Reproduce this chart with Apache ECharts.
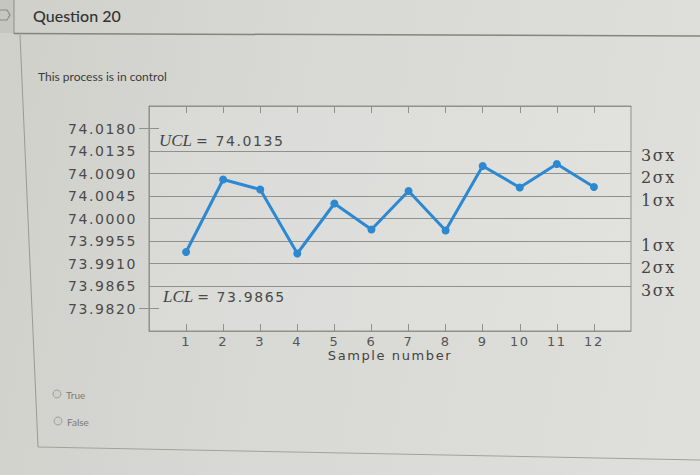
<!DOCTYPE html>
<html><head><meta charset="utf-8">
<script src="https://cdn.jsdelivr.net/npm/echarts@6/dist/echarts.min.js"></script>
<style>
html,body{margin:0;padding:0;}
body{width:700px;height:475px;overflow:hidden;background:linear-gradient(100deg,#cfd0ca 0%,#d8d9d5 40%,#dfe0dc 100%);}
#chart{width:700px;height:475px;}
#chart text[style*="DejaVu"]{letter-spacing:1.6px;}
</style></head><body><div id="chart"></div>
<script>
// ---- data ----
const sampleNumbers = [1, 2, 3, 4, 5, 6, 7, 8, 9, 10, 11, 12];
const sampleMeans = [73.9933, 74.0078, 74.0058, 73.9930, 74.0030, 73.9978, 74.0055, 73.9976, 74.0105, 74.0062, 74.0109, 74.0063];
const uclValue = 74.0135;
const lclValue = 73.9865;
const yTickValues = [73.9820, 73.9865, 73.9910, 73.9955, 74.0000, 74.0045, 74.0090, 74.0135, 74.0180];
const sigmaLineValues = [74.0135, 74.0090, 74.0045, 74.0000, 73.9955, 73.9910, 73.9865];
const sigmaLineLabels = ['3σx', '2σx', '1σx', '', '1σx', '2σx', '3σx'];
const xTickValues = [1, 2, 3, 4, 5, 6, 7, 8, 9, 10, 11, 12];
const outerTickValues = [73.9820, 74.0180];

const chart = echarts.init(document.getElementById('chart'), null, {renderer: 'svg'});
const gridColor = '#8f918c';
const numFont = 'DejaVu Sans';
const serifFont = 'DejaVu Serif';

const markData = sigmaLineValues.map((v, i) => ({
  yAxis: v,
  label: sigmaLineLabels[i] === '' ? {show: false} : {
    show: true, position: 'end', distance: 10, offset: [0, 4],
    formatter: sigmaLineLabels[i],
    fontFamily: serifFont, fontSize: 16, color: '#454545'
  }
}));
const limitRich = {
  i: {fontFamily: 'Liberation Serif', fontStyle: 'italic', fontSize: 17, color: '#454545', padding: [0, 4, 0, 0]},
  t: {fontFamily: numFont, fontSize: 14, color: '#4a4a4a'}
};
markData.push({
  yAxis: uclValue,
  label: {show: true, position: 'insideStartTop', distance: [10, 2],
    formatter: '{i|UCL}{t|= ' + uclValue.toFixed(4) + '}', rich: limitRich}
});
markData.push({
  yAxis: lclValue,
  label: {show: true, position: 'insideStartBottom', distance: [14, 2],
    formatter: '{i|LCL}{t|= ' + lclValue.toFixed(4) + '}', rich: limitRich}
});

const option = {
  animation: false,
  grid: {left: 149, right: 69, top: 106, bottom: 144, show: true,
         backgroundColor: 'rgba(255,255,255,0.12)', borderColor: gridColor, borderWidth: 1},
  xAxis: [{
    type: 'value', min: 0, max: 13, position: 'bottom',
    axisLine: {show: true, lineStyle: {color: gridColor}},
    axisTick: {show: true, inside: true, length: 7, customValues: xTickValues, lineStyle: {color: gridColor}},
    axisLabel: {customValues: xTickValues, margin: 4, fontFamily: numFont, fontSize: 13, color: '#555'},
    splitLine: {show: false},
    name: 'Sample number', nameLocation: 'middle', nameGap: 18,
    nameTextStyle: {fontFamily: numFont, fontSize: 13, color: '#444'}
  }, {
    type: 'value', min: 0, max: 13, position: 'top',
    axisLine: {show: true, lineStyle: {color: gridColor}},
    axisTick: {show: true, inside: true, length: 7, customValues: xTickValues, lineStyle: {color: gridColor}},
    axisLabel: {show: false}, splitLine: {show: false}
  }],
  yAxis: [{
    type: 'value', min: 73.9775, max: 74.0225, position: 'left',
    axisLine: {show: true, lineStyle: {color: gridColor}},
    axisTick: {show: true, inside: true, length: 10, customValues: outerTickValues, lineStyle: {color: gridColor}},
    axisLabel: {customValues: yTickValues, margin: 12, formatter: v => v.toFixed(4),
                fontFamily: numFont, fontSize: 14, color: '#4a4a4a'},
    splitLine: {show: false}
  }, {
    type: 'value', min: 73.9775, max: 74.0225, position: 'right',
    axisLine: {show: true, lineStyle: {color: gridColor}},
    axisTick: {show: true, inside: true, length: 10, customValues: outerTickValues, lineStyle: {color: gridColor}},
    axisLabel: {show: false}, splitLine: {show: false}
  }],
  series: [{
    type: 'line',
    data: sampleNumbers.map((s, i) => [s, sampleMeans[i]]),
    xAxisIndex: 0, yAxisIndex: 0,
    symbol: 'circle', symbolSize: 8,
    itemStyle: {color: '#2c89d1'},
    lineStyle: {color: '#2c89d1', width: 3},
    z: 5,
    markLine: {
      silent: true, symbol: 'none', animation: false, precision: 4,
      lineStyle: {color: gridColor, width: 1, type: 'solid'},
      data: markData
    }
  }],
  graphic: [
    {type: 'rect', shape: {x: 0, y: 0, width: 14, height: 33}, style: {fill: '#c6c6c0'}},
    {type: 'polyline', shape: {points: [[0, 10], [7, 10], [10, 15], [7, 20], [0, 20]]}, style: {stroke: '#8a8a86', fill: 'none', lineWidth: 1.2}},
    {type: 'line', shape: {x1: 14, y1: 0, x2: 14, y2: 34}, style: {stroke: '#8f8f8a', lineWidth: 1}},
    {type: 'line', shape: {x1: 14, y1: 33.5, x2: 700, y2: 36}, style: {stroke: '#85857f', lineWidth: 1.5}},
    {type: 'line', shape: {x1: 20, y1: 35, x2: 38, y2: 447}, style: {stroke: '#9a9a95', lineWidth: 1}},
    {type: 'line', shape: {x1: 38, y1: 447, x2: 700, y2: 460}, style: {stroke: '#a2a29d', lineWidth: 1}},
    {type: 'text', x: 33, y: 15, style: {text: 'Question 20', font: '500 16px Lato', fill: '#333', verticalAlign: 'middle'}},
    {type: 'text', x: 38, y: 76, style: {text: 'This process is in control', font: '12px Lato', fill: '#3a3a3a', verticalAlign: 'middle'}},
    {type: 'circle', shape: {cx: 57, cy: 394, r: 4}, style: {fill: '#cfd0cc', stroke: '#a0a09c', lineWidth: 1}},
    {type: 'text', x: 66, y: 395, style: {text: 'True', font: '10px Lato', fill: '#7a7a78', verticalAlign: 'middle'}},
    {type: 'circle', shape: {cx: 58, cy: 421, r: 4}, style: {fill: '#cfd0cc', stroke: '#a0a09c', lineWidth: 1}},
    {type: 'text', x: 67, y: 422, style: {text: 'False', font: '10px Lato', fill: '#7a7a78', verticalAlign: 'middle'}}
  ]
};
chart.setOption(option);
</script></body></html>
